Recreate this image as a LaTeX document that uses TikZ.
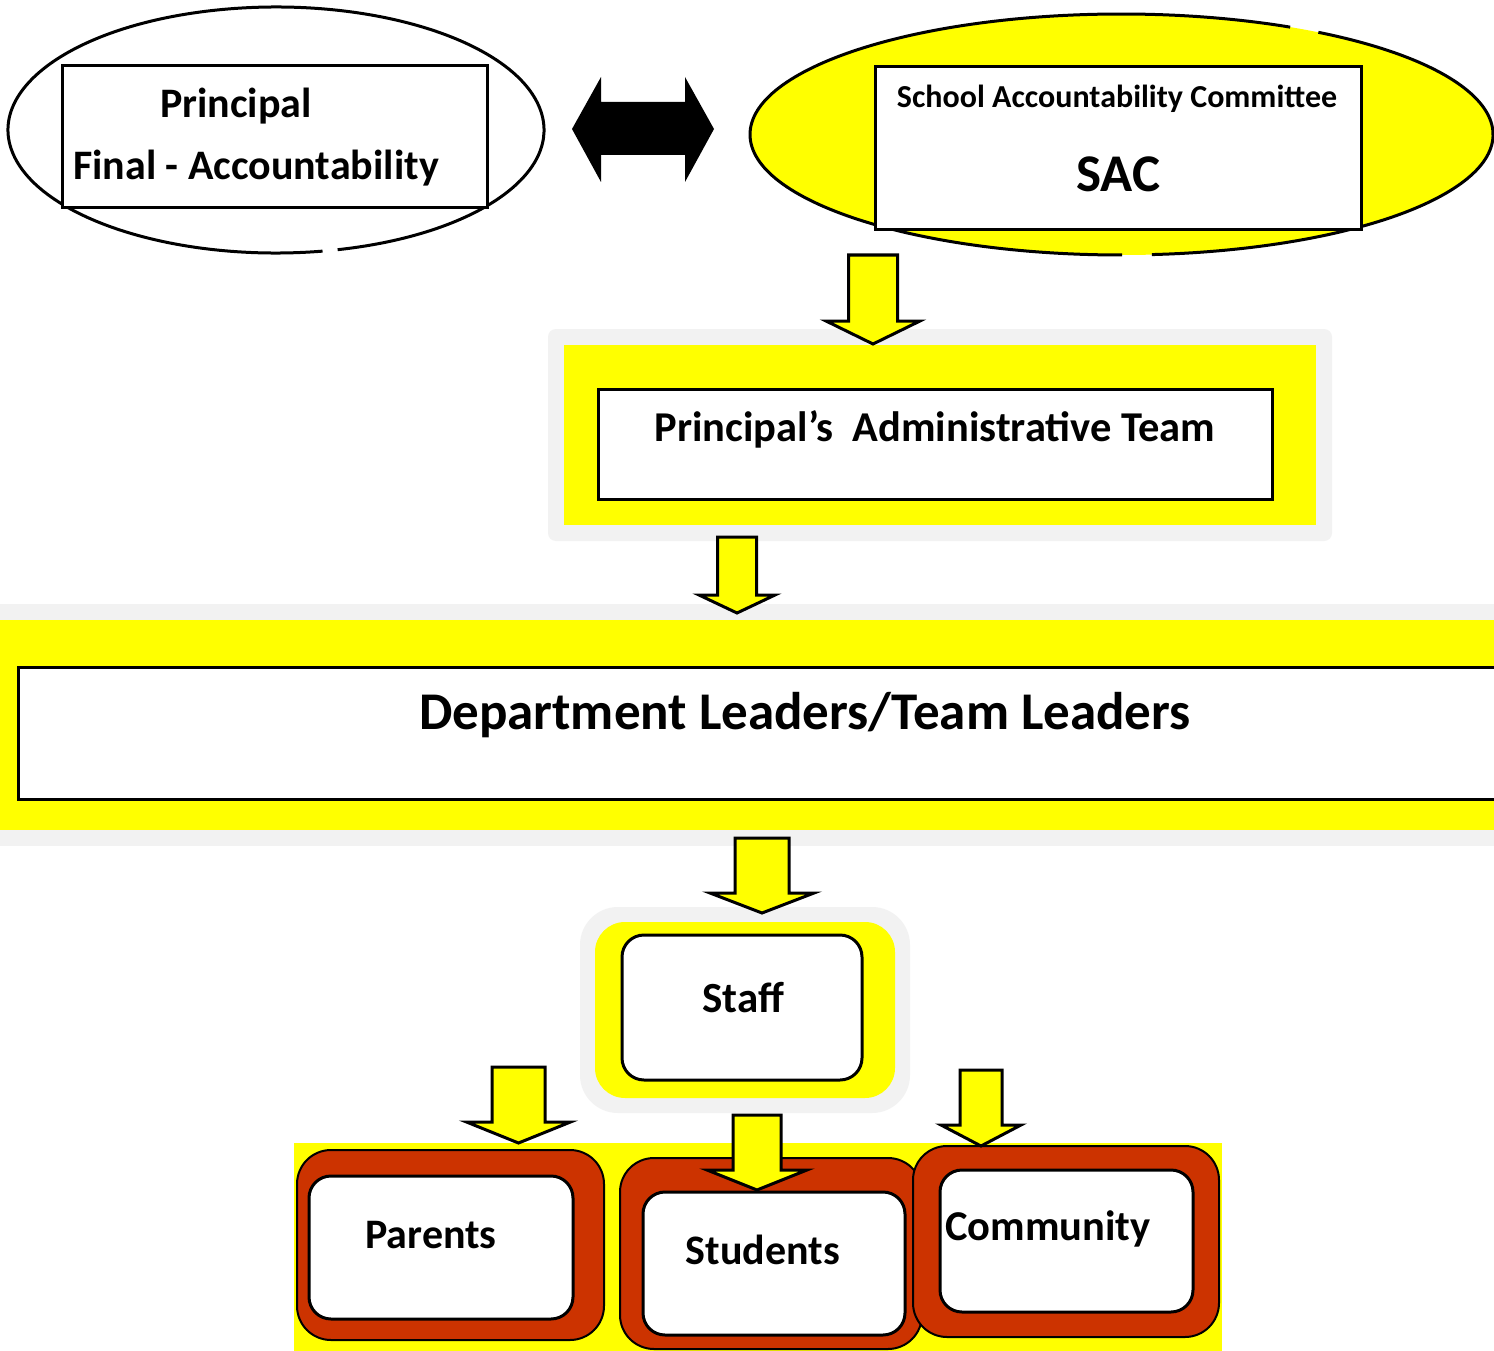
\documentclass[tikz,border=0pt]{standalone}
\usepackage{fontspec}
\setmainfont{Carlito}
\definecolor{yel}{HTML}{FFFF00}
\definecolor{lgray}{HTML}{F2F2F2}
\definecolor{brick}{HTML}{CC3300}
\tikzset{
  outline/.style={draw=black, line width=3pt},
  whitebox/.style={outline, fill=white, inner sep=0pt},
  arrowblk/.style={draw=black, line width=3pt, fill=yel, line join=miter},
  lbl/.style={inner sep=0pt, font=\bfseries},
}
\newcommand{\blkdown}[6]{%
  \draw[arrowblk] ({#1-#5},#2) -- ({#1+#5},#2) -- ({#1+#5},#3) -- ({#1+#6},#3)
    -- (#1,#4) -- ({#1-#6},#3) -- ({#1-#5},#3) -- cycle;}
\newcommand{\fs}[1]{\fontsize{#1}{#1}\selectfont}
\begin{document}
\begin{tikzpicture}[x=1pt,y=-1pt]
\clip (0,0) rectangle (1494,1351);
\fill[white] (0,0) rectangle (1494,1351);

% ---- Principal ellipse
\draw[line width=3pt] (276,130) ++(80:268 and 123) arc[start angle=80, end angle=436.7, x radius=268, y radius=123];
\node[whitebox, minimum width=425, minimum height=142] (principal) at (274.5,137) {};
\node[lbl, font=\bfseries\fs{42}] (ptxt1) at (236,106) {Principal};
\node[lbl, font=\bfseries\fs{42}, anchor=west] (ptxt2) at (73,168) {Final - Accountability};

% ---- double arrow
\fill[black] (572,129) -- (601,77) -- (601,102) -- (685,102) -- (685,77) -- (714,129)
  -- (685,182) -- (685,155) -- (601,155) -- (601,182) -- cycle;

% ---- SAC ellipse
\fill[yel] (1121.5,134.5) ellipse[x radius=371.5, y radius=120.5];
\draw[line width=3pt] (1121.5,134.5) ++(-58:371.5 and 120.5) arc[start angle=-58, end angle=85.3, x radius=371.5, y radius=120.5];
\draw[line width=3pt] (1121.5,134.5) ++(89.9:371.5 and 120.5) arc[start angle=89.9, end angle=297, x radius=371.5, y radius=120.5];
\node[whitebox, minimum width=486, minimum height=163] (sac) at (1118,148.5) {};
\node[lbl, font=\bfseries\fs{32}] (sactxt1) at (1117,99) {School Accountability Committee};
\node[lbl, font=\bfseries\fs{53}] (sactxt2) at (1118,174) {SAC};

% ---- Admin team
\fill[lgray, rounded corners=8] (548,329) rectangle (1332,541);
\fill[yel] (564,345) rectangle (1316,525);
\node[whitebox, minimum width=674, minimum height=110] (admin) at (935,444) {};
\node[lbl, font=\bfseries\fs{42.5}] (admintxt) at (935,429) {Principal’s\ \ Administrative Team};

% ---- Department band
\fill[lgray] (0,604) rectangle (1494,846);
\fill[yel] (0,620) rectangle (1494,830);
\node[whitebox, minimum width=1500, minimum height=132, anchor=west] (dept) at (17,733) {};
\node[lbl, font=\bfseries\fs{53}] (depttxt) at (805,715) {Department Leaders/Team Leaders};

% ---- Staff
\fill[lgray, rounded corners=38] (580,907) rectangle (910,1113);
\fill[yel, rounded corners=30] (595,922) rectangle (895,1098);
\draw[whitebox, rounded corners=22] (622,935) rectangle (862,1080);
\node[minimum width=240, minimum height=145, inner sep=0pt] (staff) at (742,1007.5) {};
\node[lbl, font=\bfseries\fs{43}] (stafftxt) at (743,998) {Staff};

% ---- bottom band
\fill[yel] (294,1143) rectangle (1222,1351);

% Parents
\draw[line width=2pt, fill=brick, rounded corners=34] (297,1150) rectangle (604,1340);
\draw[whitebox, rounded corners=22] (309,1176) rectangle (573,1319);
\node[minimum width=264, minimum height=143, inner sep=0pt] (parents) at (441,1247.5) {};
\node[lbl, font=\bfseries\fs{42}] (parentstxt) at (431,1235) {Parents};

% Students
\draw[line width=2pt, fill=brick, rounded corners=34] (620,1158) rectangle (922,1349);
\draw[whitebox, rounded corners=22] (643,1192) rectangle (905,1335);
\node[minimum width=262, minimum height=143, inner sep=0pt] (students) at (774,1263.5) {};
\node[lbl, font=\bfseries\fs{42}] (studentstxt) at (763,1250) {Students};

% Community
\draw[line width=2pt, fill=brick, rounded corners=34] (913,1146) rectangle (1219,1337);
\draw[whitebox, rounded corners=22] (940,1170) rectangle (1193,1312);
\node[minimum width=253, minimum height=142, inner sep=0pt] (community) at (1066.5,1241) {};
\node[lbl, font=\bfseries\fs{42.5}, anchor=west] (communitytxt) at (945,1229) {Community};

% ---- block arrows (on top)
\blkdown{873}{255}{321}{344}{24.5}{47}
\blkdown{737}{537}{595}{613}{19.5}{38}
\blkdown{762}{838}{893}{913}{27}{52}
\blkdown{518.5}{1067}{1122}{1143}{26.5}{52}
\blkdown{757}{1115}{1170}{1190}{24}{50}
\blkdown{981}{1070}{1125}{1146}{21}{40}
\end{tikzpicture}
\end{document}
